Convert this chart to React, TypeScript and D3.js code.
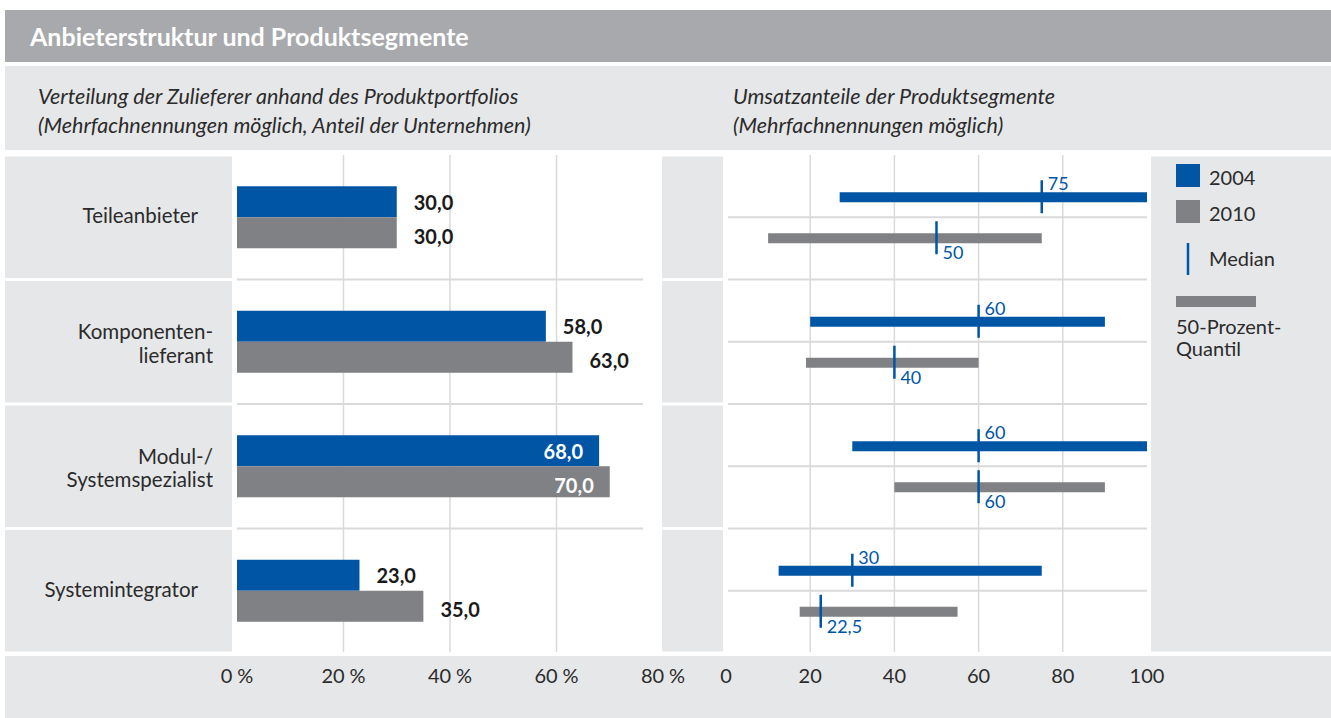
import React from 'react';
import { scaleLinear, scaleBand, format } from 'd3';

const categories = ['Teileanbieter', 'Komponenten-\nlieferant', 'Modul-/\nSystemspezialist', 'Systemintegrator'];
const share2004 = [30, 58, 68, 23];
const share2010 = [30, 63, 70, 35];
const low2004 = [27, 20, 30, 12.5];
const high2004 = [100, 90, 100, 75];
const median2004 = [75, 60, 60, 30];
const low2010 = [10, 19, 40, 17.5];
const high2010 = [75, 60, 90, 55];
const median2010 = [50, 40, 60, 22.5];
const leftTicks = [0, 20, 40, 60, 80];
const rightTicks = [0, 20, 40, 60, 80, 100];

const BLUE = '#0055a5';
const GRAY = '#808184';
const PANEL = '#e6e7e9';
const GRID = '#d9dadb';
const TEXT = '#2b2b2b';
const FONT = 'Lato, "Noto Sans", sans-serif';

const de = (v: number, f: string) => format(f)(v).replace('.', ',');

export default function App() {
  const W = 1331;
  const H = 718;

  const y = scaleBand<string>().domain(categories).range([155, 653]);
  const xl = scaleLinear().domain([0, 80]).range([237, 663]);
  const xr = scaleLinear().domain([0, 100]).range([726, 1147]);
  const bw = y.bandwidth();
  const barH = 31;

  return (
    <svg width={W} height={H} style={{ position: 'absolute', left: 0, top: 0, fontFamily: FONT }}>
      <rect width={W} height={H} fill="#fff" />
      {/* title */}
      <rect x={5} y={10} width={W - 5} height={52} fill="#a7a9ac" />
      <text x={30} y={46} fill="#fff" fontSize={25} fontWeight="bold">Anbieterstruktur und Produktsegmente</text>
      {/* subtitles */}
      <rect x={5} y={66} width={W - 5} height={84} fill={PANEL} />
      <g fontStyle="italic" fontSize={21.5} fill={TEXT}>
        <text x={38} y={104}>Verteilung der Zulieferer anhand des Produktportfolios</text>
        <text x={38} y={133}>(Mehrfachnennungen möglich, Anteil der Unternehmen)</text>
        <text x={733} y={104}>Umsatzanteile der Produktsegmente</text>
        <text x={733} y={133}>(Mehrfachnennungen möglich)</text>
      </g>

      {/* row panels */}
      {categories.map((c) => (
        <g key={'p' + c}>
          <rect x={5} y={(y(c) as number) + 1.5} width={227} height={bw - 3} fill={PANEL} />
          <rect x={662} y={(y(c) as number) + 1.5} width={61} height={bw - 3} fill={PANEL} />
        </g>
      ))}
      <rect x={1151} y={156.5} width={W - 1151} height={495} fill={PANEL} />
      <rect x={5} y={656} width={W - 5} height={62} fill={PANEL} />

      {/* grid lines */}
      {leftTicks.filter((t) => t > 0 && t < 80).map((t) => (
        <line key={'lg' + t} x1={xl(t)} x2={xl(t)} y1={155} y2={652} stroke={GRID} strokeWidth={1.5} />
      ))}
      {rightTicks.filter((t) => t > 0 && t < 100).map((t) => (
        <line key={'rg' + t} x1={xr(t)} x2={xr(t)} y1={155} y2={652} stroke={GRID} strokeWidth={1.5} />
      ))}
      {categories.slice(1).map((c) => (
        <g key={'hs' + c}>
          <line x1={237} x2={643} y1={y(c) as number} y2={y(c) as number} stroke={GRID} strokeWidth={2} />
          <line x1={728} x2={1147} y1={y(c) as number} y2={y(c) as number} stroke={GRID} strokeWidth={2} />
        </g>
      ))}
      {categories.map((c) => (
        <line key={'hm' + c} x1={728} x2={1147} y1={(y(c) as number) + bw / 2} y2={(y(c) as number) + bw / 2} stroke={GRID} strokeWidth={2} />
      ))}

      {/* category labels */}
      {categories.map((c) => {
        const lines = c.split('\n');
        const cy = (y(c) as number) + bw / 2;
        const xe = lines.length > 1 ? 213 : 198;
        return (
          <text key={'l' + c} x={xe} textAnchor="end" fontSize={20.5} fill={TEXT}>
            {lines.map((ln, j) => (
              <tspan key={j} x={xe} y={cy + 6 + (lines.length > 1 ? 3 : 0) + (j - (lines.length - 1) / 2) * 23.5}>{ln}</tspan>
            ))}
          </text>
        );
      })}

      {/* left bars */}
      {categories.map((c, i) => {
        const cy = (y(c) as number) + bw / 2;
        const rows = [
          { v: share2004[i], fill: BLUE, top: cy - barH },
          { v: share2010[i], fill: GRAY, top: cy },
        ];
        return (
          <g key={'b' + c}>
            {rows.map((r, j) => {
              const inside = r.v > 65;
              return (
                <g key={j}>
                  <rect x={xl(0)} y={r.top} width={xl(r.v) - xl(0)} height={barH} fill={r.fill} />
                  <text
                    x={inside ? xl(r.v) - 16 : xl(r.v) + 17}
                    y={r.top + barH / 2 + (j === 0 ? 0 : 3)}
                    dominantBaseline="central"
                    textAnchor={inside ? 'end' : 'start'}
                    fontSize={20}
                    fontWeight="bold"
                    fill={inside ? '#fff' : '#1a1a1a'}
                  >
                    {de(r.v, '.1f')}
                  </text>
                </g>
              );
            })}
          </g>
        );
      })}

      {/* right ranges */}
      {categories.map((c, i) => {
        const cy = (y(c) as number) + bw / 2;
        const items = [
          { lo: low2004[i], hi: high2004[i], med: median2004[i], fill: BLUE, yc: cy - 20, above: true },
          { lo: low2010[i], hi: high2010[i], med: median2010[i], fill: GRAY, yc: cy + 21, above: false },
        ];
        return (
          <g key={'r' + c}>
            {items.map((it, j) => (
              <g key={j}>
                <rect x={xr(it.lo)} y={it.yc - 5} width={xr(it.hi) - xr(it.lo)} height={10} fill={it.fill} />
                <line x1={xr(it.med)} x2={xr(it.med)} y1={it.yc - 17} y2={it.yc + 16} stroke={BLUE} strokeWidth={2.5} />
                <text
                  x={xr(it.med) + 6}
                  y={it.above ? it.yc - 7 : it.yc + 21}
                  fontSize={18}
                  fill={BLUE}
                >
                  {it.med % 1 === 0 ? de(it.med, '.0f') : de(it.med, '.1f')}
                </text>
              </g>
            ))}
          </g>
        );
      })}

      {/* legend */}
      <g fontSize={20} fill={TEXT}>
        <rect x={1176} y={164} width={24} height={23} fill={BLUE} />
        <text x={1209} y={185}>2004</text>
        <rect x={1176} y={200} width={24} height={23} fill={GRAY} />
        <text x={1209} y={221}>2010</text>
        <line x1={1188} x2={1188} y1={243} y2={275} stroke={BLUE} strokeWidth={2.5} />
        <text x={1209} y={266}>Median</text>
        <rect x={1176} y={296} width={80} height={11} fill={GRAY} />
        <text x={1176} y={334}>50-Prozent-</text>
        <text x={1176} y={356}>Quantil</text>
      </g>

      {/* axes */}
      <g fontSize={20} fill={TEXT} textAnchor="middle">
        {leftTicks.map((t) => (
          <text key={'lt' + t} x={xl(t)} y={683}>{t + '\u202F%'}</text>
        ))}
        {rightTicks.map((t) => (
          <text key={'rt' + t} x={xr(t)} y={683}>{t}</text>
        ))}
      </g>
    </svg>
  );
}
